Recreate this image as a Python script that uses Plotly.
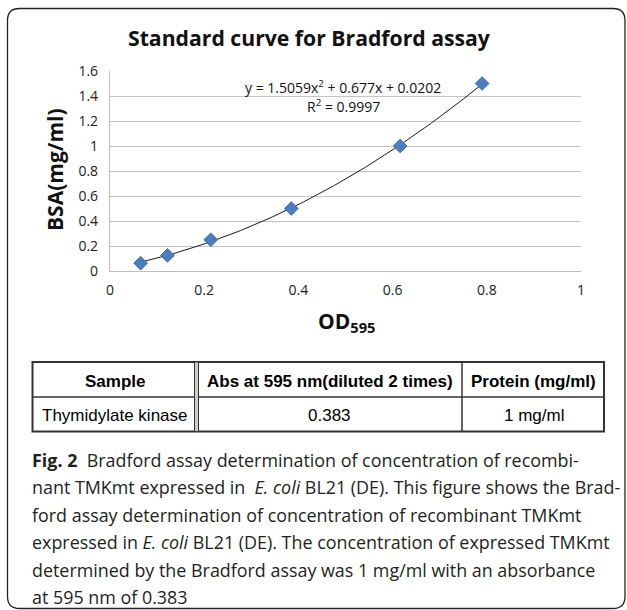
import numpy as np
import plotly.graph_objects as go

# ---------------- data ----------------
od595 = [0.065, 0.122, 0.214, 0.385, 0.616, 0.790]
bsa_mg_ml = [0.0625, 0.125, 0.25, 0.5, 1.0, 1.5]
trend_coeffs = [1.5059, 0.677, 0.0202]   # y = a x^2 + b x + c (Excel trendline)
r_squared = 0.9997

x_tickvals = [0, 0.2, 0.4, 0.6, 0.8, 1]
x_ticktext = ["0", "0.2", "0.4", "0.6", "0.8", "1"]
y_tickvals = [0, 0.2, 0.4, 0.6, 0.8, 1, 1.2, 1.4, 1.6]
y_ticktext = ["0", "0.2", "0.4", "0.6", "0.8", "1", "1.2", "1.4", "1.6"]

chart_title = "Standard curve for Bradford assay"
x_title = "OD<sub>595</sub>"
y_title = "BSA(mg/ml)"

table_header = ["Sample", "Abs at 595 nm(diluted 2 times)", "Protein (mg/ml)"]
table_row = ["Thymidylate kinase", "0.383", "1 mg/ml"]

caption_lines = [
    "<b>Fig. 2</b>\u00a0 Bradford assay determination of concentration of recombi-",
    "nant TMKmt expressed in\u00a0 <i>E. coli</i> BL21 (DE). This figure shows the Brad-",
    "ford assay determination of concentration of recombinant TMKmt",
    "expressed in <i>E. coli</i> BL21 (DE). The concentration of expressed TMKmt",
    "determined by the Bradford assay was 1 mg/ml with an absorbance",
    "at 595 nm of 0.383",
]

# ---------------- geometry helpers (pixel -> paper) ----------------
W, H = 627, 610
L, R, T, B = 110, 46, 71, 339
PW, PH = W - L - R, H - T - B


def px(x):
    return (x - L) / PW


def py(y):
    return (H - B - y) / PH


fig = go.Figure()

# trendline
xt = np.linspace(od595[0], od595[-1], 200)
yt = np.polyval(trend_coeffs, xt)
fig.add_trace(go.Scatter(x=xt, y=yt, mode="lines",
                         line=dict(color="#1a1a1a", width=1),
                         hoverinfo="skip", showlegend=False))
# data points
fig.add_trace(go.Scatter(x=od595, y=bsa_mg_ml, mode="markers",
                         marker=dict(symbol="diamond", size=10.5, color="#4a7ebf",
                                     line=dict(color="#3d6fae", width=1)),
                         showlegend=False))

axis_font = dict(family="Open Sans", size=14, color="#222222")
fig.update_xaxes(range=[0, 1], tickvals=x_tickvals, ticktext=x_ticktext,
                 showgrid=False, zeroline=False, showline=True,
                 linecolor="#bfbfbf", linewidth=1.2, ticks="",
                 tickfont=axis_font, ticklabelstandoff=6)
fig.update_yaxes(range=[0, 1.6], tickvals=y_tickvals, ticktext=y_ticktext,
                 showgrid=True, gridcolor="#c4c4c4", gridwidth=1.2,
                 zeroline=False, showline=True, linecolor="#bfbfbf",
                 linewidth=1.2, ticks="", tickfont=axis_font,
                 ticklabelstandoff=8)

ann = []


def add_text(x, y, text, font, xanchor="center", yanchor="middle", **kw):
    ann.append(dict(x=px(x), y=py(y), xref="paper", yref="paper", text=text,
                    showarrow=False, xanchor=xanchor, yanchor=yanchor,
                    font=font, **kw))


# chart title
add_text(309, 37, "<b>" + chart_title + "</b>",
         dict(family="Open Sans", size=21.2, color="#111111"))
# axis titles
add_text(55, 170, "<b>" + y_title + "</b>",
         dict(family="Open Sans", size=21, color="#111111"), textangle=-90)
add_text(346, 322, "<b>" + x_title + "</b>",
         dict(family="Open Sans", size=21, color="#111111"))
# trendline equation
eq = "y = {:.4f}x<sup>2</sup> + {:.3f}x + {:.4f}".format(*trend_coeffs)
add_text(343, 87, eq, dict(family="Open Sans", size=14, color="#111111"))
add_text(343, 106, "R<sup>2</sup> = {:.4f}".format(r_squared),
         dict(family="Open Sans", size=14, color="#111111"))

# ---------------- table ----------------
tbl_left, tbl_right = 32.5, 604
tbl_top, tbl_mid, tbl_bot = 362, 397, 431.5
col_centers = [115, 329.5, 533.5]
row_centers = [381.5, 415]
tfont = dict(family="Liberation Sans", size=17, color="#000000")
for i, txt in enumerate(table_header):
    add_text(col_centers[i], row_centers[0], "<b>" + txt + "</b>", tfont)
for i, txt in enumerate(table_row):
    add_text(col_centers[i], row_centers[1], txt, tfont)

# ---------------- caption ----------------
cap_y = [459.5, 487, 514.5, 542, 569.5, 597]
for yy, line in zip(cap_y, caption_lines):
    add_text(30, yy, line, dict(family="Open Sans", size=17.9, color="#231f20"),
             xanchor="left")

shapes = []
lc = "#333333"
# outer table border
shapes.append(dict(type="rect", xref="paper", yref="paper",
                   x0=px(tbl_left), x1=px(tbl_right), y0=py(tbl_top), y1=py(tbl_bot),
                   line=dict(color=lc, width=2)))
shapes.append(dict(type="line", xref="paper", yref="paper",
                   x0=px(tbl_left), x1=px(tbl_right), y0=py(tbl_mid), y1=py(tbl_mid),
                   line=dict(color=lc, width=1.5)))
# double divider after first column
shapes.append(dict(type="rect", xref="paper", yref="paper",
                   x0=px(194.5), x1=px(198.5), y0=py(tbl_top), y1=py(tbl_bot),
                   fillcolor="#cccccc", line=dict(color=lc, width=1)))
shapes.append(dict(type="line", xref="paper", yref="paper",
                   x0=px(462), x1=px(462), y0=py(tbl_top), y1=py(tbl_bot),
                   line=dict(color=lc, width=1.5)))

# rounded outer frame
x0f, x1f, y0f, y1f, rr = 7.5, 625, 8.5, 608.5, 12


def P(x, y):
    return "{:.5f},{:.5f}".format(px(x), py(y))


path = ("M " + P(x0f + rr, y0f) + " L " + P(x1f - rr, y0f) +
        " Q " + P(x1f, y0f) + " " + P(x1f, y0f + rr) +
        " L " + P(x1f, y1f - rr) + " Q " + P(x1f, y1f) + " " + P(x1f - rr, y1f) +
        " L " + P(x0f + rr, y1f) + " Q " + P(x0f, y1f) + " " + P(x0f, y1f - rr) +
        " L " + P(x0f, y0f + rr) + " Q " + P(x0f, y0f) + " " + P(x0f + rr, y0f) + " Z")
shapes.append(dict(type="path", xref="paper", yref="paper", path=path,
                   line=dict(color="#222222", width=1.3)))

fig.update_layout(width=W, height=H, autosize=False,
                  margin=dict(l=L, r=R, t=T, b=B, pad=0),
                  paper_bgcolor="white", plot_bgcolor="white",
                  annotations=ann, shapes=shapes, showlegend=False)

fig.write_html("out.html")
